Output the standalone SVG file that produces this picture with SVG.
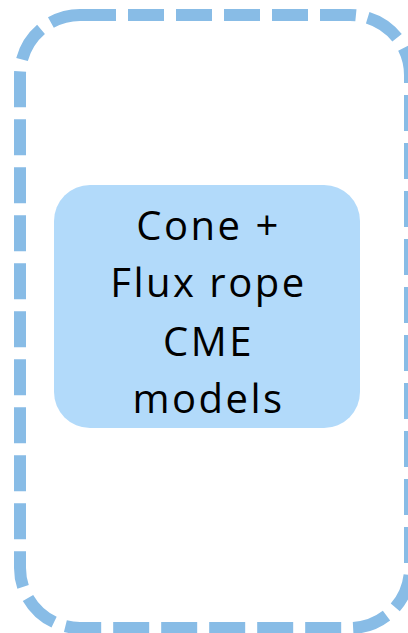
<svg xmlns="http://www.w3.org/2000/svg" width="408" height="633" viewBox="0 0 408 633">
<style>
.grp{fill:none;stroke:#88bce6;stroke-width:12;stroke-dasharray:36 12}
.node{fill:#b2dafa;stroke:none}
.lbl{font-family:"Open Sans","Noto Sans","DejaVu Sans",sans-serif;font-size:40px;letter-spacing:2.5px;fill:#000;text-anchor:middle}
</style>
<rect width="408" height="633" fill="#fff"/>
<g id="group">
<rect class="grp" x="20" y="15" width="390" height="613" rx="60" ry="60"/>
</g>
<g id="node-cme">
<rect class="node" x="54" y="185" width="306" height="243" rx="36" ry="36"/>
<text class="lbl" x="208.5" y="240">Cone +</text>
<text class="lbl" x="208.5" y="297">Flux rope</text>
<text class="lbl" x="208.5" y="356">CME</text>
<text class="lbl" x="208.5" y="413">models</text>
</g>
<g id="connectors"/>
</svg>
